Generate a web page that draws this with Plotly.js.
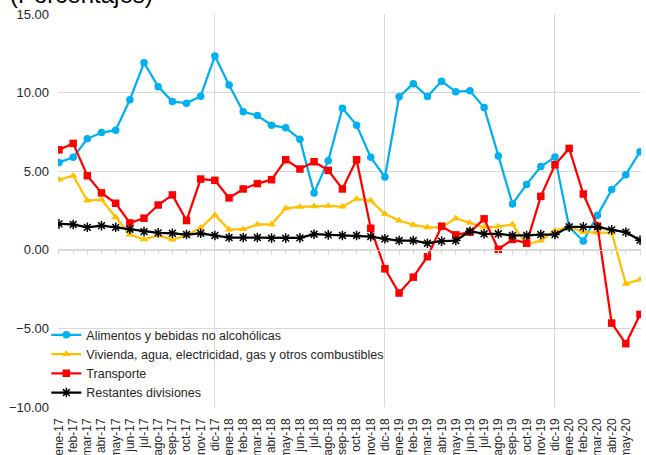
<!DOCTYPE html>
<html>
<head>
<meta charset="utf-8">
<script src="https://cdn.plot.ly/plotly-3.0.1.min.js"></script>
<style>html,body{margin:0;padding:0;background:#fff;}#chart{width:646px;height:455px;}</style>
</head>
<body>
<div id="chart"></div>
<script>
const months = ['ene-17','feb-17','mar-17','abr-17','may-17','jun-17','jul-17','ago-17','sep-17','oct-17','nov-17','dic-17',
  'ene-18','feb-18','mar-18','abr-18','may-18','jun-18','jul-18','ago-18','sep-18','oct-18','nov-18','dic-18',
  'ene-19','feb-19','mar-19','abr-19','may-19','jun-19','jul-19','ago-19','sep-19','oct-19','nov-19','dic-19',
  'ene-20','feb-20','mar-20','abr-20','may-20','jun-20'];

const seriesNames = ['Alimentos y bebidas no alcohólicas',
  'Vivienda, agua, electricidad, gas y otros combustibles',
  'Transporte',
  'Restantes divisiones'];

const alimentos = [5.56,5.88,7.06,7.46,7.61,9.54,11.9,10.38,9.43,9.33,9.77,12.33,
  10.49,8.78,8.54,7.93,7.76,7.04,3.62,5.67,9.01,7.93,5.88,4.63,
  9.73,10.57,9.75,10.72,10.06,10.11,9.05,5.96,2.92,4.16,5.3,5.9,
  1.45,0.56,2.2,3.83,4.78,6.24];

const vivienda = [4.46,4.71,3.13,3.19,2.07,0.97,0.67,0.91,0.65,0.91,1.4,2.22,
  1.29,1.31,1.61,1.62,2.64,2.73,2.77,2.79,2.75,3.24,3.13,2.28,
  1.86,1.59,1.43,1.43,2.0,1.71,1.43,1.48,1.61,0.32,0.59,1.22,
  1.45,1.12,1.1,1.08,-2.16,-1.9];

const transporte = [6.36,6.77,4.71,3.62,2.96,1.71,2.01,2.85,3.49,1.86,4.5,4.42,
  3.3,3.87,4.21,4.46,5.73,5.14,5.6,5.05,3.87,5.73,1.37,-1.21,
  -2.75,-1.74,-0.44,1.5,0.95,1.12,1.97,0.03,0.66,0.42,3.4,5.41,
  6.45,3.55,1.5,-4.66,-5.97,-4.11];

const restantes = [1.65,1.61,1.43,1.54,1.43,1.31,1.16,1.08,1.05,0.97,1.05,0.91,
  0.78,0.78,0.78,0.74,0.74,0.76,0.99,0.95,0.91,0.91,0.84,0.7,
  0.59,0.59,0.42,0.55,0.59,1.18,1.02,1.02,0.91,0.91,0.97,0.97,
  1.46,1.46,1.46,1.27,1.12,0.61];

const yTicks = [-10,-5,0,5,10,15];
const gridMonths = ['dic-17','dic-18','dic-19'];

const idx = months.map((m,i)=>i);
const gridIdx = gridMonths.map(m=>months.indexOf(m));
const evenIdx = idx.filter(i=>i%2===0), oddIdx = idx.filter(i=>i%2===1);
const xr = [-0.07, months.length - 1 + 0.07];

const colors = ['#00B0F0','#FFC000','#FF0000','#000000'];
const symbols = ['circle','triangle-up','square','asterisk-open'];
const sizes = [7.5,7.5,7.5,8];

// invisible helper traces so that the label axes (x2, x4) and grid axis (x3) are drawn
const helpers = ['x2','x3','x4'].map(ax=>({
  type:'scatter', mode:'lines', x: idx, y: restantes, xaxis: ax, yaxis:'y',
  line:{width:0, color:'rgba(0,0,0,0)'}, opacity:0, showlegend:false, hoverinfo:'skip'
}));

const data = helpers.concat([alimentos, vivienda, transporte, restantes].map((vals,k)=>({
  type:'scatter', mode:'lines+markers', name: seriesNames[k],
  x: idx, y: vals,
  line:{color: colors[k], width: 2.25},
  marker:{color: colors[k], symbol: symbols[k], size: sizes[k],
          line:{color: colors[k], width: k===3 ? 1.5 : 0}}
})));

const labelAxis = (vals)=>({type:'linear', range:xr, overlaying:'x', anchor:'y', side:'bottom',
  tickvals: vals, ticktext: vals.map(i=>months[i]), tickangle:-90, ticks:'', ticklabelstandoff:8,
  tickfont:{size:12, color:'#262626'}, showgrid:false, showline:false, zeroline:false});

const layout = {
  width:646, height:455,
  margin:{l:58, r:5, t:14, b:48, pad:0},
  paper_bgcolor:'#ffffff', plot_bgcolor:'#ffffff',
  font:{family:'"Liberation Sans", Arial, sans-serif', color:'#262626'},
  showlegend:true,
  legend:{x:-0.02, y:0.221, xanchor:'left', yanchor:'top', bgcolor:'rgba(0,0,0,0)',
    font:{size:12.5, color:'#262626'}, tracegroupgap:0},
  xaxis:{type:'linear', range:xr, anchor:'free', position:0.4,
    tickvals: idx, showticklabels:false, ticks:'outside', ticklen:4, tickcolor:'#d9d9d9',
    showline:true, linecolor:'#d9d9d9', linewidth:1, showgrid:false, zeroline:false, fixedrange:true},
  xaxis2: labelAxis(evenIdx),
  xaxis4: labelAxis(oddIdx),
  xaxis3:{type:'linear', range:xr, overlaying:'x', anchor:'y', side:'top',
    tickvals: gridIdx, showticklabels:false, ticks:'', showgrid:true, gridcolor:'#d9d9d9', gridwidth:1,
    showline:false, zeroline:false},
  yaxis:{range:[-10,15], tickvals:yTicks, tickformat:'.2f', ticks:'', ticklabelstandoff:8,
    tickfont:{size:13, color:'#262626'}, showgrid:true, gridcolor:'#d9d9d9', gridwidth:1,
    zeroline:false, showline:false},
  annotations:[{text:'(Porcentajes)', xref:'paper', yref:'paper', x:-0.0858, y:1.0102,
    xanchor:'left', yanchor:'bottom', showarrow:false, font:{size:24, color:'#000000'}}]
};

Plotly.newPlot('chart', data, layout, {staticPlot:true, displayModeBar:false});
</script>
</body>
</html>
